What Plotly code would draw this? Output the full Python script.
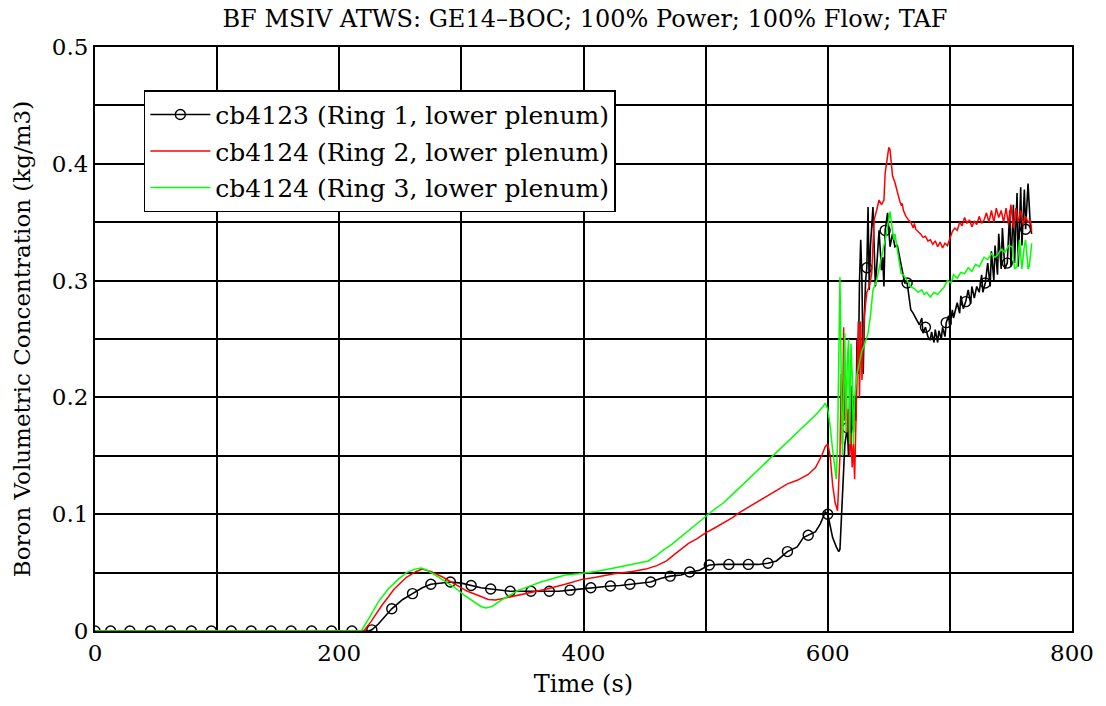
import plotly.graph_objects as go

title_text = "BF MSIV ATWS: GE14\u2013BOC; 100% Power; 100% Flow; TAF"
x_title = "Time (s)"
y_title = "Boron Volumetric Concentration (kg/m3)"
names = ["cb4123 (Ring 1, lower plenum)",
         "cb4124 (Ring 2, lower plenum)",
         "cb4124 (Ring 3, lower plenum)"]

# ---- Ring 1 (black, with circle markers) ----
ring1_t = [0, 12.8, 28.6, 45.4, 61.8, 78.9, 95.3, 111.6, 127.9, 144.2, 160.6, 177.4, 193.7, 210.4, 224, 226.7,
           232, 243, 252, 260, 268, 275, 283, 291, 300, 308, 316, 324, 332, 340, 348, 357, 365, 372, 380, 389,
           397, 406, 414, 422, 430, 438, 446, 455, 463, 471, 480, 487, 495, 503, 511, 519, 527, 535, 543, 551,
           558, 567, 575, 580, 584, 590, 594, 598, 600, 602, 604, 607, 609, 610,
           612, 614, 616, 617, 618, 619, 620, 621, 622, 623, 624, 625, 626, 627, 628, 629, 630, 631,
           632, 633, 634, 635, 637, 638, 639, 640, 642, 644, 645, 646, 647, 649, 651, 653, 655, 657,
           660, 663, 665, 668, 670, 673, 675, 677, 678,
           680, 682, 684, 685, 687, 688, 690, 691, 693, 694, 696, 697, 699, 700, 702, 703, 706, 708,
           709, 711, 713, 715, 717, 718, 720, 722, 724, 726, 727, 729, 731, 733, 734, 736, 737,
           739, 740, 742, 743, 745, 747, 749, 750, 752, 753, 755, 756, 758, 759, 761, 762, 764, 766, 767]
ring1_v = [0, 0, 0, 0, 0, 0, 0, 0, 0, 0, 0, 0, 0, 0, 0, 0.001,
           0.006, 0.019, 0.027, 0.032, 0.037, 0.040, 0.041, 0.042, 0.041, 0.039, 0.037, 0.036, 0.035, 0.034, 0.034, 0.034, 0.034, 0.034, 0.034, 0.035,
           0.036, 0.037, 0.038, 0.0385, 0.039, 0.040, 0.041, 0.042, 0.045, 0.047, 0.048, 0.0505, 0.052, 0.0565, 0.057, 0.057, 0.057, 0.057, 0.057, 0.058,
           0.060, 0.068, 0.072, 0.080, 0.082, 0.085, 0.092, 0.102, 0.100, 0.090, 0.080, 0.072, 0.068, 0.070,
           0.11, 0.16, 0.174, 0.15, 0.20, 0.16, 0.21, 0.17, 0.20, 0.18, 0.25, 0.22, 0.30, 0.335, 0.30, 0.22, 0.269, 0.30,
           0.311, 0.363, 0.292, 0.33, 0.363, 0.32, 0.295, 0.31, 0.343, 0.309, 0.32, 0.295, 0.343, 0.358, 0.329, 0.34, 0.329, 0.33,
           0.315, 0.298, 0.298, 0.275, 0.272, 0.266, 0.262, 0.268, 0.255,
           0.26, 0.252, 0.249, 0.256, 0.247, 0.258, 0.247, 0.257, 0.25, 0.26, 0.252, 0.264, 0.27, 0.26, 0.275, 0.268, 0.281, 0.272,
           0.287, 0.276, 0.282, 0.292, 0.28, 0.295, 0.285, 0.295, 0.29, 0.305, 0.29, 0.298, 0.315, 0.295, 0.325, 0.30, 0.33,
           0.305, 0.34, 0.31, 0.345, 0.31, 0.315, 0.36, 0.312, 0.365, 0.315, 0.375, 0.312, 0.38, 0.33, 0.378, 0.344, 0.383, 0.345, 0.34]
ring1_marker_t = [0, 12.8, 28.6, 45.4, 61.8, 78.9, 95.3, 111.6, 127.9, 144.2, 160.6, 177.4, 193.7, 210.4, 226.7,
                  243, 260, 275, 291, 308, 324, 340, 357, 372, 389, 406, 422, 438, 455, 471, 487, 503, 519, 535,
                  551, 567, 584, 600, 616, 632, 647, 665, 680, 697, 713, 729, 747, 762]

# ---- Ring 2 (red) ----
ring2_t = [0, 220, 226, 235, 245, 255, 263, 268, 275, 285, 295, 305, 315, 322, 328, 335, 345, 358, 370, 385,
           398, 410, 425, 440, 451, 460, 468, 475, 480, 486, 493, 500, 507, 515, 522, 527, 535, 543, 550, 559,
           567, 575, 584, 590, 595, 598, 600, 602, 604, 606, 608,
           610, 611, 612, 613, 614, 615, 616, 617, 618, 619, 620, 621, 622, 623, 624, 625, 626, 627, 628, 629,
           630, 631, 632, 634, 636, 637, 638, 640, 642, 644, 646, 647, 648, 650,
           651, 652, 653, 655, 656, 657, 658, 659, 660, 661, 662, 664, 666, 668, 670, 671, 672, 674,
           676, 678, 680, 682, 684, 686, 688, 690, 692, 694, 696, 698, 700, 702, 704, 706, 708, 710, 712, 714,
           716, 718, 720, 722, 724, 726, 728, 730, 732, 734, 736, 738, 740, 742, 744, 746, 748, 750, 752, 754,
           756, 758, 760, 762, 764, 766, 767]
ring2_v = [0, 0, 0.008, 0.022, 0.036, 0.046, 0.051, 0.053, 0.051, 0.046, 0.040, 0.034, 0.030, 0.027, 0.0265, 0.028, 0.030, 0.033, 0.036, 0.040,
           0.044, 0.046, 0.049, 0.051, 0.053, 0.056, 0.060, 0.066, 0.070, 0.075, 0.079, 0.084, 0.088, 0.093, 0.097, 0.101, 0.106, 0.111, 0.115, 0.121,
           0.126, 0.129, 0.134, 0.140, 0.150, 0.158, 0.160, 0.150, 0.125, 0.110, 0.103,
           0.15, 0.22, 0.16, 0.26, 0.18, 0.21, 0.17, 0.19, 0.15, 0.17, 0.14, 0.16, 0.13, 0.18, 0.24, 0.265, 0.20, 0.265, 0.215, 0.25,
           0.27, 0.28, 0.29, 0.295, 0.306, 0.33, 0.352, 0.36, 0.369, 0.365, 0.369, 0.392, 0.40, 0.414,
           0.412, 0.40, 0.39, 0.384, 0.38, 0.375, 0.37, 0.368, 0.365, 0.366, 0.36, 0.355, 0.352, 0.350, 0.345, 0.349, 0.344, 0.342,
           0.340, 0.337, 0.338, 0.334, 0.335, 0.331, 0.334, 0.329, 0.333, 0.328, 0.332, 0.330, 0.337, 0.342, 0.345, 0.343, 0.350, 0.347, 0.354, 0.349,
           0.352, 0.346, 0.351, 0.348, 0.355, 0.349, 0.352, 0.358, 0.350, 0.360, 0.350, 0.362, 0.354, 0.360, 0.350, 0.362, 0.348, 0.365, 0.345, 0.362,
           0.350, 0.360, 0.348, 0.355, 0.350, 0.352, 0.342]

# ---- Ring 3 (green) ----
ring3_t = [0, 218, 225, 232, 240, 248, 255, 262, 267, 272, 280, 288, 295, 302, 310, 316, 320, 325, 332, 340,
           347, 355, 365, 375, 385, 396, 410, 425, 440, 453, 459, 465, 472, 478, 485, 492, 500, 507, 515, 522,
           527, 535, 543, 551, 559, 567, 575, 583, 590, 596, 598, 600, 602, 604, 606, 607, 608, 609, 610, 611,
           612, 613, 614, 615, 616, 617, 618, 619, 620, 621, 622, 624, 626, 628, 630, 633, 635, 637, 640, 643, 646,
           648, 651, 652, 654, 655, 657, 660, 662, 665, 668, 671, 674, 677, 679, 681, 684, 687, 690, 693, 695,
           698, 701, 703, 706, 709, 712, 715, 718, 721, 724, 727, 728, 731, 734, 737, 739, 742, 745, 748, 751,
           753, 755, 757, 759, 761, 762, 764, 765, 767]
ring3_v = [0, 0, 0.012, 0.025, 0.036, 0.044, 0.050, 0.053, 0.054, 0.052, 0.047, 0.042, 0.037, 0.031, 0.025, 0.021, 0.0197, 0.021, 0.026, 0.031,
           0.035, 0.038, 0.042, 0.045, 0.048, 0.049, 0.051, 0.054, 0.057, 0.060, 0.064, 0.069, 0.074, 0.079, 0.085, 0.091, 0.098, 0.104, 0.110, 0.117,
           0.122, 0.130, 0.138, 0.146, 0.154, 0.162, 0.170, 0.178, 0.185, 0.192, 0.195, 0.190, 0.175, 0.155, 0.135, 0.130, 0.160, 0.240, 0.303, 0.220,
           0.150, 0.200, 0.255, 0.170, 0.230, 0.250, 0.160, 0.246, 0.220, 0.160, 0.200, 0.220, 0.230, 0.240, 0.245, 0.255, 0.270, 0.292, 0.300, 0.315, 0.330,
           0.340, 0.359, 0.350, 0.335, 0.340, 0.326, 0.306, 0.305, 0.300, 0.295, 0.293, 0.290, 0.292, 0.288, 0.290, 0.286, 0.290, 0.288, 0.292, 0.294,
           0.300, 0.298, 0.305, 0.302, 0.307, 0.306, 0.311, 0.308, 0.314, 0.312, 0.318, 0.320, 0.318, 0.323, 0.320, 0.322, 0.327, 0.324, 0.330, 0.329,
           0.310, 0.312, 0.335, 0.310, 0.330, 0.335, 0.310, 0.312, 0.332]

assert len(ring1_t) == len(ring1_v)
assert len(ring2_t) == len(ring2_v)
assert len(ring3_t) == len(ring3_v)

x_range = [0, 800]
y_range = [0, 0.5]

FONT = "DejaVu Serif"
FS = 23

marker_set = set(ring1_marker_t)
mk_t = [t for t in ring1_t if t in marker_set]
mk_v = [v for t, v in zip(ring1_t, ring1_v) if t in marker_set]

fig = go.Figure()
fig.add_trace(go.Scatter(x=ring1_t, y=ring1_v, mode="lines", line=dict(color="black", width=1.6),
                         showlegend=False, legendgroup="g1", hoverinfo="skip"))
fig.add_trace(go.Scatter(x=mk_t, y=mk_v, mode="markers",
                         marker=dict(symbol="circle-open", size=10, color="black", line=dict(width=1.4)),
                         showlegend=False, legendgroup="g1"))
fig.add_trace(go.Scatter(x=[None], y=[None], mode="lines+markers", name=names[0], legendgroup="g1",
                         line=dict(color="black", width=1.6),
                         marker=dict(symbol="circle-open", size=10, color="black", line=dict(width=1.4))))
fig.add_trace(go.Scatter(x=ring2_t, y=ring2_v, mode="lines", name=names[1], legendgroup="g2",
                         line=dict(color="#ff0000", width=1.5)))
fig.add_trace(go.Scatter(x=ring3_t, y=ring3_v, mode="lines", name=names[2], legendgroup="g3",
                         line=dict(color="#00ff00", width=1.5)))

axis_common = dict(showline=True, linecolor="black", linewidth=2, mirror=True,
                   showgrid=True, gridcolor="black", gridwidth=1.5, zeroline=False,
                   ticks="", tickfont=dict(family=FONT, size=FS, color="black"))

fig.update_layout(
    width=1106, height=706,
    margin=dict(l=95, r=31, t=47, b=75),
    paper_bgcolor="white", plot_bgcolor="white",
    title=dict(text=title_text, x=(95 + 1075) / 2 / 1106, xanchor="center", y=0.974, yanchor="middle",
               font=dict(family=FONT, size=24, color="black")),
    font=dict(family=FONT, color="black"),
    xaxis=dict(range=x_range, dtick=200, tick0=0,
               minor=dict(dtick=100, showgrid=True, gridcolor="black", gridwidth=1.5),
               title=dict(text=x_title, font=dict(family=FONT, size=24, color="black"), standoff=11),
               **axis_common),
    yaxis=dict(range=y_range, dtick=0.1, tick0=0,
               minor=dict(dtick=0.05, showgrid=True, gridcolor="black", gridwidth=1.5),
               title=dict(text=y_title, font=dict(family=FONT, size=FS, color="black"), standoff=15),
               **axis_common),
    legend=dict(x=0.05, y=0.926, xanchor="left", yanchor="top",
                bgcolor="white", bordercolor="black", borderwidth=1.5,
                font=dict(family=FONT, size=25, color="black"),
                itemwidth=60,
                traceorder="grouped", tracegroupgap=1),
    showlegend=True,
)

fig.write_html("out.html")
